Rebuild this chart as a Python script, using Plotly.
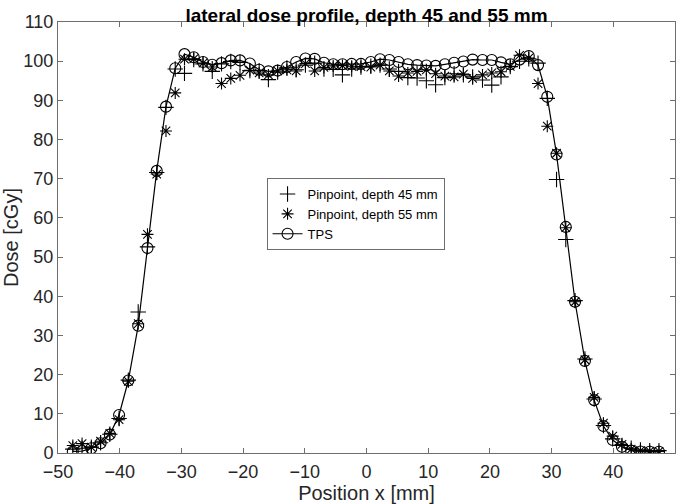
import plotly.graph_objects as go

position_x = [-47.6, -46.1, -44.6, -43.1, -41.6, -40.1, -38.6, -37.0, -35.5, -34.0,
              -32.5, -31.0, -29.5, -28.0, -26.5, -25.0, -23.5, -22.0, -20.5, -18.9,
              -17.4, -15.9, -14.4, -12.9, -11.4, -9.9, -8.4, -6.9, -5.4, -3.9,
              -2.4, -0.9, 0.7, 2.2, 3.7, 5.2, 6.7, 8.2, 9.7, 11.2,
              12.7, 14.2, 15.7, 17.2, 18.8, 20.3, 21.8, 23.3, 24.8, 26.3,
              27.8, 29.3, 30.8, 32.3, 33.8, 35.4, 36.9, 38.4, 39.9, 41.4,
              42.9, 44.4, 45.9, 47.4]

tps_dose = [0.4, 0.5, 1.2, 2.5, 4.7, 9.7, 18.5, 32.5, 52.3, 72.0,
            88.4, 98.2, 101.8, 101.0, 99.8, 99.1, 99.5, 100.2, 100.2, 99.4,
            97.8, 97.4, 97.6, 98.5, 99.8, 100.7, 100.6, 99.6, 99.2, 99.2,
            99.3, 99.3, 99.8, 100.5, 100.3, 99.8, 99.2, 99.0, 98.9, 98.8,
            99.2, 99.6, 99.9, 100.4, 100.3, 100.3, 99.7, 99.2, 100.4, 101.3,
            99.0, 90.9, 76.2, 57.7, 38.6, 23.5, 13.5, 6.9, 3.3, 1.6,
            0.6, 0.4, 0.3, 0.3]

pinpoint_45 = [1.0, 1.2, 1.5, 2.6, 4.8, 8.8, 18.6, 36.0, 52.6, 71.6,
               88.2, 98.0, 96.9, 100.4, 99.3, 97.4, 99.3, 99.9, 99.7, 97.6,
               97.6, 95.3, 97.2, 98.3, 97.8, 99.0, 99.5, 98.0, 97.9, 96.5,
               98.0, 98.5, 98.7, 99.0, 98.0, 97.4, 95.8, 95.7, 95.0, 94.0,
               95.8, 96.8, 96.5, 96.0, 95.2, 93.9, 96.0, 98.6, 100.0, 100.6,
               99.5, 90.5, 69.8, 54.5, 38.9, 24.0, 13.8, 7.0, 3.6, 1.9,
               1.2, 0.8, 0.6, 0.6]

pinpoint_55 = [1.9, 2.4, 1.5, 3.0, 5.0, 8.5, 18.3, 33.0, 55.8, 71.2,
               82.2, 91.9, 100.5, 100.6, 99.5, 98.5, 94.3, 95.6, 96.4, 97.7,
               97.0, 96.5, 97.5, 97.8, 97.5, 99.4, 97.5, 98.4, 98.8, 98.9,
               98.7, 98.6, 98.5, 99.0, 97.5, 96.2, 97.0, 97.4, 97.8, 96.8,
               96.2, 96.0, 96.7, 95.6, 96.5, 97.0, 97.3, 98.7, 101.5, 100.8,
               94.3, 83.4, 76.5, 57.5, 38.6, 23.8, 14.2, 7.6, 4.3, 2.2,
               1.0, 0.6, 0.5, 0.4]

x_ticks = [-50, -40, -30, -20, -10, 0, 10, 20, 30, 40, 50]
y_ticks = [0, 10, 20, 30, 40, 50, 60, 70, 80, 90, 100, 110]

FONT = "Liberation Sans, Arial, Helvetica, sans-serif"

fig = go.Figure()
fig.add_trace(go.Scatter(
    x=position_x, y=pinpoint_45, mode="markers", name="Pinpoint, depth 45 mm",
    marker=dict(symbol="cross-thin", size=11, color="black",
                line=dict(color="black", width=1.1)),
))
fig.add_trace(go.Scatter(
    x=position_x, y=pinpoint_55, mode="markers", name="Pinpoint, depth 55 mm",
    marker=dict(symbol="asterisk", size=10, color="black",
                line=dict(color="black", width=1.1)),
))
fig.add_trace(go.Scatter(
    x=position_x, y=tps_dose, mode="lines+markers", name="TPS",
    line=dict(color="black", width=1.2),
    marker=dict(symbol="circle-open", size=11, color="black",
                line=dict(color="black", width=1.1)),
))

axis_common = dict(
    showline=True, linecolor="#6e6e6e", linewidth=1, mirror="ticks",
    ticks="inside", ticklen=5, tickcolor="#6e6e6e", tickwidth=1,
    showgrid=False, zeroline=False, automargin=False,
    tickfont=dict(family=FONT, size=18, color="#262626"),
)

fig.update_layout(
    width=685, height=504,
    margin=dict(l=58, r=10, t=22, b=51, autoexpand=False),
    paper_bgcolor="white", plot_bgcolor="white",
    title=dict(text="<b>lateral dose profile, depth 45 and 55 mm</b>",
               x=0.5, xref="paper", xanchor="center",
               y=1.0, yref="paper", yanchor="bottom", pad=dict(b=0),
               automargin=False,
               font=dict(family=FONT, size=19, color="black")),
    xaxis=dict(range=[-50, 50], tickvals=x_ticks, ticklabelstandoff=2,
               title=dict(text="Position x [mm]", standoff=0,
                          font=dict(family=FONT, size=20, color="#262626")),
               **axis_common),
    yaxis=dict(range=[0, 110], tickvals=y_ticks,
               title=dict(text="Dose [cGy]", standoff=4,
                          font=dict(family=FONT, size=20, color="#262626")),
               **axis_common),
    legend=dict(x=0.338, y=0.638, xanchor="left", yanchor="top",
                bgcolor="white", bordercolor="#6e6e6e", borderwidth=1,
                font=dict(family=FONT, size=13, color="black"),
                itemwidth=30, tracegroupgap=0),
    showlegend=True,
)

# remove the default 8 px page margin so the figure fills the window exactly
fig.write_html("out.html",
               config={"displayModeBar": False},
               post_script="document.body.style.margin='0';document.body.style.overflow='hidden';")
